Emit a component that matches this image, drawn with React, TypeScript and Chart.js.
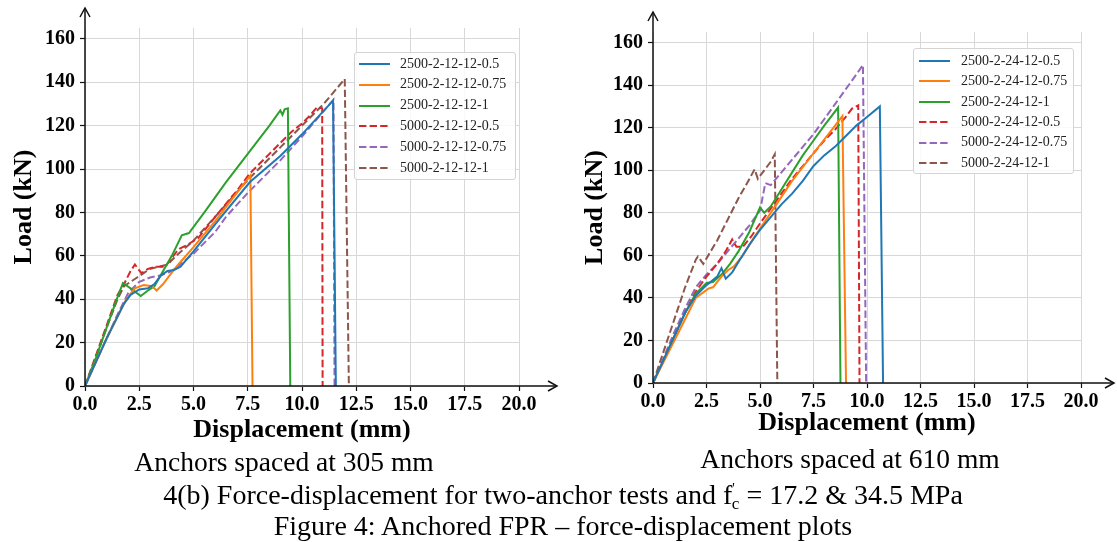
import React, { useEffect, useRef } from "react";
import { Chart, registerables } from "chart.js";

Chart.register(...registerables);

type Pt = [number, number];

const SERIF = "'Liberation Serif', 'Times New Roman', serif";

const xTickValues = [0, 2.5, 5, 7.5, 10, 12.5, 15, 17.5, 20];
const xTickLabels = ["0.0", "2.5", "5.0", "7.5", "10.0", "12.5", "15.0", "17.5", "20.0"];
const yTickValues = [0, 20, 40, 60, 80, 100, 120, 140, 160];
const yTickLabels = ["0", "20", "40", "60", "80", "100", "120", "140", "160"];

const seriesColors = ["#1f77b4", "#ff7f0e", "#2ca02c", "#d62728", "#9467bd", "#8c564b"];
const seriesDashed = [false, false, false, true, true, true];

const leftLabels = [
  "2500-2-12-12-0.5",
  "2500-2-12-12-0.75",
  "2500-2-12-12-1",
  "5000-2-12-12-0.5",
  "5000-2-12-12-0.75",
  "5000-2-12-12-1",
];
const rightLabels = [
  "2500-2-24-12-0.5",
  "2500-2-24-12-0.75",
  "2500-2-24-12-1",
  "5000-2-24-12-0.5",
  "5000-2-24-12-0.75",
  "5000-2-24-12-1",
];

// Left panel (anchors spaced at 305 mm)
const L_2500_05: Pt[] = [[0, 0], [0.5, 11], [1.0, 22], [1.5, 32], [1.8, 38], [2.1, 42], [2.5, 44.5], [2.9, 45], [3.2, 47], [3.5, 51], [3.8, 53], [4.1, 53.5], [4.4, 55], [5.0, 62], [6.2, 77], [7.6, 94], [9.0, 106], [10.0, 116], [11.43, 131.5], [11.56, 0]];
const L_2500_075: Pt[] = [[0, 0], [0.5, 11], [1.0, 22], [1.5, 32], [1.9, 40], [2.3, 45], [2.7, 46.5], [3.1, 46], [3.3, 44], [3.6, 47], [3.9, 51], [4.3, 56], [5.0, 64], [6.0, 76], [7.0, 89], [7.62, 97], [7.72, 0]];
const L_2500_1: Pt[] = [[0, 0], [0.5, 13], [1.0, 27], [1.5, 41], [1.75, 47.5], [2.1, 45], [2.57, 41.5], [2.9, 44], [3.2, 46], [3.6, 53], [4.0, 60], [4.46, 69.5], [4.79, 70.5], [5.5, 80], [6.5, 94], [7.5, 107], [8.5, 120], [9.0, 127], [9.1, 125], [9.2, 127.5], [9.35, 128], [9.46, 0]];
const L_5000_05: Pt[] = [[0, 0], [0.5, 14], [1.0, 28], [1.5, 42], [1.8, 47], [2.1, 53], [2.3, 56], [2.6, 52], [2.9, 54], [3.3, 55], [3.7, 55], [4.0, 59], [4.3, 63], [4.7, 65], [5.2, 68], [6.0, 78], [7.0, 90], [7.6, 98], [8.5, 107], [9.5, 117], [10.0, 121], [10.3, 124], [10.7, 128.5], [10.93, 128], [10.95, 0]];
const L_5000_075: Pt[] = [[0, 0], [0.5, 11], [1.0, 22], [1.5, 33], [2.0, 43], [2.5, 48], [3.0, 50], [3.5, 51], [4.0, 53], [5.0, 61], [6.0, 71], [6.5, 78], [7.5, 89], [9.0, 104], [10.0, 115], [11.45, 132], [11.5, 0]];
const L_5000_1: Pt[] = [[0, 0], [0.5, 13], [1.0, 27], [1.5, 40], [1.8, 46], [2.1, 48], [2.4, 50], [2.7, 52], [3.0, 54], [3.4, 55], [3.8, 56], [4.2, 60], [5.0, 67], [6.0, 78], [7.5, 95], [9.0, 110], [10.0, 120], [11.0, 130], [11.97, 141.5], [12.16, 0]];

// Right panel (anchors spaced at 610 mm)
const R_2500_05: Pt[] = [[0, 0], [0.5, 11], [1.0, 22], [1.5, 33], [2.0, 41], [2.5, 46], [3.0, 50], [3.2, 54], [3.4, 49], [3.7, 52], [4.0, 57], [4.5, 65], [5.0, 72], [5.5, 78], [6.0, 84], [6.5, 89], [7.0, 95], [7.5, 102], [8.0, 107], [8.5, 111], [9.0, 116], [9.5, 121], [10.0, 125], [10.6, 130], [10.75, 0]];
const R_2500_075: Pt[] = [[0, 0], [0.5, 10], [1.0, 20], [1.5, 30], [2.0, 40], [2.6, 44.5], [2.8, 45], [3.2, 50], [3.5, 53], [3.8, 55], [4.2, 60], [4.7, 68], [5.5, 80], [6.5, 95], [7.5, 108], [8.2, 117], [8.85, 125.5], [9.02, 0]];
const R_2500_1: Pt[] = [[0, 0], [0.5, 11], [1.0, 22], [1.5, 33], [2.0, 42], [2.5, 47], [2.8, 47.5], [3.2, 51], [3.6, 56], [4.0, 62], [4.5, 71], [5.0, 82.5], [5.2, 80], [5.5, 83], [6.0, 91], [6.5, 99], [7.0, 107], [7.5, 114], [8.0, 121], [8.65, 129.5], [8.76, 0]];
const R_5000_05: Pt[] = [[0, 0], [0.5, 11], [1.0, 22], [1.5, 33], [2.0, 43], [2.5, 50], [3.0, 56], [3.4, 62], [3.7, 67.5], [3.9, 64], [4.2, 64], [4.6, 69], [5.0, 75], [5.5, 82], [6.0, 89], [6.5, 96], [7.0, 102], [7.5, 108], [8.0, 114], [8.5, 119], [9.0, 125], [9.3, 129], [9.59, 130.5], [9.65, 0]];
const R_5000_075: Pt[] = [[0, 0], [0.5, 12], [1.0, 24], [1.5, 35], [2.0, 45], [2.5, 51], [3.0, 56], [3.5, 62], [4.0, 68], [4.5, 74], [5.0, 81], [5.25, 94], [5.5, 93], [6.0, 99], [6.5, 105], [7.0, 111], [7.5, 117], [8.0, 124], [8.5, 131], [9.0, 138], [9.5, 145], [9.81, 149.5], [9.96, 0]];
const R_5000_1: Pt[] = [[0, 0], [0.5, 15], [1.0, 30], [1.5, 45], [2.0, 58], [2.1, 59.5], [2.35, 56], [2.7, 62], [3.0, 67], [3.5, 77], [4.0, 87], [4.4, 94], [4.75, 100.5], [4.9, 96], [5.2, 100], [5.5, 104], [5.69, 107.5], [5.81, 0]];

const leftSeries = [L_2500_05, L_2500_075, L_2500_1, L_5000_05, L_5000_075, L_5000_1];
const rightSeries = [R_2500_05, R_2500_075, R_2500_1, R_5000_05, R_5000_075, R_5000_1];

const axisArrows = {
  id: "axisArrows",
  afterDraw(chart: any, _args: any, opts: any) {
    const { ctx, chartArea } = chart;
    const { left, bottom } = chartArea;
    ctx.save();
    ctx.strokeStyle = "#111";
    ctx.lineWidth = 1.5;
    ctx.setLineDash([]);
    ctx.beginPath();
    ctx.moveTo(left, bottom);
    ctx.lineTo(opts.xTip, bottom);
    ctx.moveTo(left, bottom);
    ctx.lineTo(left, opts.yTip);
    ctx.stroke();
    ctx.beginPath();
    ctx.moveTo(opts.xTip - 9, bottom - 5);
    ctx.lineTo(opts.xTip, bottom);
    ctx.lineTo(opts.xTip - 9, bottom + 5);
    ctx.moveTo(left - 5, opts.yTip + 9);
    ctx.lineTo(left, opts.yTip);
    ctx.lineTo(left + 5, opts.yTip + 9);
    ctx.stroke();
    ctx.restore();
  },
};

type Geom = {
  left: number; right: number; top: number; bottom: number;
  yTitlePad: number; xTitlePad: number; xTip: number; yTip: number;
};

function Plot(props: { x: number; y: number; w: number; h: number; labels: string[]; series: Pt[][]; g: Geom }) {
  const { x, y, w, h, labels, series, g } = props;
  const ref = useRef<HTMLCanvasElement>(null);
  useEffect(() => {
    const tickFont = { family: SERIF, size: 20, weight: "bold" as const };
    const titleFont = { family: SERIF, size: 26, weight: "bold" as const };
    const chart = new Chart(ref.current as HTMLCanvasElement, {
      type: "line",
      data: {
        datasets: series.map((s, i) => ({
          label: labels[i],
          data: s.map(([px, py]) => ({ x: px, y: py })),
          borderColor: seriesColors[i],
          backgroundColor: seriesColors[i],
          borderWidth: 2,
          borderDash: seriesDashed[i] ? [7.4, 3.2] : [],
          pointRadius: 0,
          tension: 0,
          fill: false,
        })),
      },
      options: {
        animation: false,
        responsive: false,
        maintainAspectRatio: false,
        events: [],
        layout: { padding: { top: g.top, right: w - g.right, left: 0, bottom: 0 } },
        plugins: {
          legend: { display: false },
          tooltip: { enabled: false },
          axisArrows: { xTip: g.xTip, yTip: g.yTip },
        } as any,
        scales: {
          x: {
            type: "linear",
            min: 0,
            max: 20,
            afterBuildTicks: (s: any) => { s.ticks = xTickValues.map((value) => ({ value })); },
            ticks: {
              callback: (_v: any, i: number) => xTickLabels[i],
              font: tickFont,
              color: "#000",
              padding: 2,
              maxRotation: 0,
              autoSkip: false,
            },
            grid: { color: "#d8d8d8", lineWidth: 1, tickColor: "#111", tickLength: 5, tickWidth: 1.2 },
            border: { display: false },
            title: { display: true, text: "Displacement (mm)", font: titleFont, color: "#000", padding: { top: 0, bottom: g.xTitlePad } },
            afterFit: (s: any) => { s.height = h - g.bottom; s.paddingLeft = 0; s.paddingRight = 0; },
          },
          y: {
            type: "linear",
            min: 0,
            max: 165,
            afterBuildTicks: (s: any) => { s.ticks = yTickValues.map((value) => ({ value })); },
            ticks: {
              callback: (_v: any, i: number) => yTickLabels[i],
              font: tickFont,
              color: "#000",
              padding: 5,
            },
            grid: { color: "#d8d8d8", lineWidth: 1, tickColor: "#111", tickLength: 5, tickWidth: 1.2 },
            border: { display: false },
            title: { display: true, text: "Load (kN)", font: titleFont, color: "#000", padding: { top: g.yTitlePad, bottom: 0 } },
            afterFit: (s: any) => { s.width = g.left; s.paddingTop = 0; s.paddingBottom = 0; },
          },
        } as any,
      },
      plugins: [axisArrows as any],
    });
    return () => chart.destroy();
  }, []);
  return (
    <canvas
      ref={ref}
      width={w}
      height={h}
      style={{ position: "absolute", left: x, top: y, width: w, height: h }}
    />
  );
}

function Legend(props: { x: number; y: number; w: number; h: number; rowH: number; padTop: number; sampleX: number; textX: number; labels: string[] }) {
  const { x, y, w, h, rowH, padTop, sampleX, textX, labels } = props;
  return (
    <div
      style={{
        position: "absolute", left: x, top: y, width: w, height: h, boxSizing: "border-box",
        border: "1px solid #d4d4d4", borderRadius: 3, background: "rgba(255,255,255,0.85)",
        paddingTop: padTop,
      }}
    >
      {labels.map((lab, i) => (
        <div key={lab} style={{ position: "relative", height: rowH }}>
          <svg width={31} height={4} style={{ position: "absolute", left: sampleX, top: rowH / 2 - 2 }}>
            <line x1={0} y1={2} x2={31} y2={2} stroke={seriesColors[i]} strokeWidth={2}
              strokeDasharray={seriesDashed[i] ? "7.4 3.2" : undefined} />
          </svg>
          <span style={{ position: "absolute", left: textX, top: 0, lineHeight: rowH + "px", fontFamily: SERIF, fontSize: 14, color: "#222", whiteSpace: "nowrap" }}>
            {lab}
          </span>
        </div>
      ))}
    </div>
  );
}

function Caption(props: { cx: number; cy: number; size: number; children: React.ReactNode }) {
  return (
    <div
      style={{
        position: "absolute", left: props.cx - 500, top: props.cy - 16, width: 1000, height: 32,
        lineHeight: "32px", textAlign: "center", fontFamily: SERIF, fontSize: props.size, color: "#000", whiteSpace: "nowrap",
      }}
    >
      {props.children}
    </div>
  );
}

export default function App() {
  return (
    <div style={{ position: "absolute", left: 0, top: 0, width: 1117, height: 542, background: "#fff", overflow: "hidden" }}>
      <Plot x={0} y={0} w={560} h={450} labels={leftLabels} series={leftSeries}
        g={{ left: 85, right: 519, top: 28, bottom: 386, yTitlePad: 8.4, xTitlePad: 4.4, xTip: 557, yTip: 8 }} />
      <Plot x={560} y={0} w={557} h={445} labels={rightLabels} series={rightSeries}
        g={{ left: 93, right: 521, top: 32, bottom: 383, yTitlePad: 19.4, xTitlePad: 6.4, xTip: 554, yTip: 12 }} />
      <Legend x={354} y={52} w={162} h={128} rowH={20.8} padTop={0.6} sampleX={4} textX={45} labels={leftLabels} />
      <Legend x={913} y={48} w={161} h={126} rowH={20.4} padTop={1.8} sampleX={5} textX={47} labels={rightLabels} />
      <Caption cx={284} cy={462} size={27.5}>Anchors spaced at 305 mm</Caption>
      <Caption cx={850} cy={459} size={27.5}>Anchors spaced at 610 mm</Caption>
      <Caption cx={563} cy={495} size={28}>
        4(b) Force-displacement for two-anchor tests and f
        <span style={{ fontSize: 14, position: "relative", top: -11 }}>'</span>
        <span style={{ fontSize: 17, position: "relative", top: 5, marginLeft: -3 }}>c</span>
        {" "}= 17.2 &amp; 34.5 MPa
      </Caption>
      <Caption cx={563} cy={526} size={28}>Figure 4: Anchored FPR – force-displacement plots</Caption>
    </div>
  );
}
